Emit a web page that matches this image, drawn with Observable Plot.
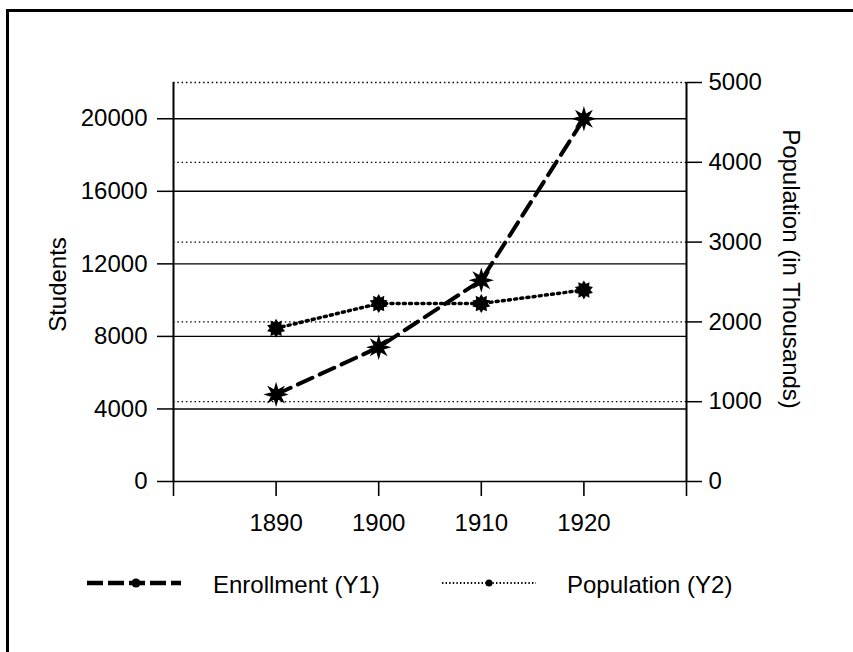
<!DOCTYPE html>
<html>
<head>
<meta charset="utf-8">
<script src="https://cdn.jsdelivr.net/npm/d3@7"></script>
<script src="https://cdn.jsdelivr.net/npm/@observablehq/plot@0.6"></script>
<style>
  html, body { margin: 0; padding: 0; background: #fff; overflow: hidden; }
  #wrap { position: relative; width: 853px; height: 652px; overflow: hidden; font-family: "Liberation Sans", Arial, sans-serif; }
  #chart { position: absolute; left: 0; top: 0; }
  #frame { position: absolute; left: 6px; top: 9px; width: 900px; height: 700px; border-left: 3px solid #000; border-top: 3px solid #000; }
  .leg { position: absolute; font-size: 24px; line-height: 28px; color: #000; white-space: nowrap; }
  .legsw { position: absolute; }
</style>
</head>
<body>
<div id="wrap">
  <div id="frame"></div>
  <div id="chart"></div>
  <svg class="legsw" style="left:85px;top:574px" width="100" height="18">
    <line x1="2" y1="9" x2="96" y2="9" stroke="#000" stroke-width="4.5" stroke-dasharray="16,5"></line>
    <circle cx="51" cy="9" r="4.5" fill="#000"></circle>
  </svg>
  <div class="leg" style="left:213px;top:571px">Enrollment (Y1)</div>
  <svg class="legsw" style="left:440px;top:574px" width="100" height="18">
    <line x1="2" y1="9" x2="96" y2="9" stroke="#000" stroke-width="2" stroke-dasharray="1.4,2.2"></line>
    <circle cx="49" cy="9" r="3.5" fill="#000"></circle>
  </svg>
  <div class="leg" style="left:567px;top:571px">Population (Y2)</div>
</div>
<script>
// ---- data ----
const years = [1890, 1900, 1910, 1920];
const enrollment = [4800, 7400, 11100, 20000];      // Students (left axis)
const population = [1920, 2230, 2230, 2400];        // Population in thousands (right axis)
const leftTicks = [0, 4000, 8000, 12000, 16000, 20000];
const rightTicks = [0, 1000, 2000, 3000, 4000, 5000];
const xTicks = [1880, 1890, 1900, 1910, 1920, 1930];
const xDomain = [1880, 1930];
const yMax = 22000;
const y2Max = 5000;
const seriesNames = ["Enrollment (Y1)", "Population (Y2)"];
const axisTitles = ["Students", "Population (in Thousands)"];

const k = yMax / y2Max;
const enrollData = years.map((year, i) => ({year, value: enrollment[i]}));
const popData = years.map((year, i) => ({year, value: population[i]}));

function star(points, innerRatio) {
  return {
    draw(ctx, size) {
      const R = Math.sqrt(size / Math.PI);
      const r = R * innerRatio;
      for (let i = 0; i < points * 2; i++) {
        const a = i * Math.PI / points - Math.PI / 2;
        const rr = i % 2 ? r : R;
        const px = rr * Math.cos(a), py = rr * Math.sin(a);
        if (i === 0) ctx.moveTo(px, py); else ctx.lineTo(px, py);
      }
      ctx.closePath();
    }
  };
}

const fmt = d => String(d);

const chart = Plot.plot({
  width: 853,
  height: 560,
  marginLeft: 173,
  marginRight: 167,
  marginTop: 82,
  marginBottom: 79,
  x: {domain: xDomain},
  y: {domain: [0, yMax]},
  style: {fontFamily: "'Liberation Sans', Arial, sans-serif", fontSize: "24px", color: "#000", background: "transparent"},
  marks: [
    Plot.ruleY(rightTicks.filter(d => d > 0), {y: d => d * k, stroke: "#000", strokeWidth: 1.3, strokeDasharray: "1.5,2.8"}),
    Plot.ruleY(leftTicks, {stroke: "#000", strokeWidth: 1.4}),
    Plot.ruleX(xDomain, {y1: 0, y2: yMax, stroke: "#000", strokeWidth: 2}),
    Plot.axisX(xTicks, {tickSize: 15, tickPadding: 17, strokeWidth: 1.6, fontSize: 24,
      tickFormat: d => (d > xDomain[0] && d < xDomain[1]) ? String(d) : "", label: null}),
    Plot.axisY(leftTicks, {anchor: "left", tickSize: 16, tickPadding: 10, strokeWidth: 1.5, fontSize: 24, tickFormat: fmt, label: null}),
    Plot.axisY(rightTicks, {anchor: "right", y: d => d * k, tickSize: 15, tickPadding: 7, strokeWidth: 1.5, fontSize: 24, tickFormat: fmt, label: null}),
    Plot.line(popData, {x: "year", y: d => d.value * k, stroke: "#000", strokeWidth: 3.5, strokeDasharray: "2,4.2"}),
    Plot.line(enrollData, {x: "year", y: "value", stroke: "#000", strokeWidth: 4, strokeDasharray: "16,8"}),
    Plot.dot(popData, {x: "year", y: d => d.value * k, r: 9.5, symbol: star(10, 0.68), fill: "#000", stroke: "none"}),
    Plot.dot(enrollData, {x: "year", y: "value", r: 10, symbol: star(8, 0.45), fill: "#000", stroke: "#000", strokeWidth: 1.5}),
    Plot.text([axisTitles[0]], {frameAnchor: "left", textAnchor: "middle", dx: -115, dy: 2.5, rotate: -90, fontSize: 24, fill: "#000"}),
    Plot.text([axisTitles[1]], {frameAnchor: "right", textAnchor: "middle", dx: 104, dy: -13, rotate: 90, fontSize: 24, fill: "#000"})
  ]
});
document.getElementById("chart").appendChild(chart);
</script>
</body>
</html>
